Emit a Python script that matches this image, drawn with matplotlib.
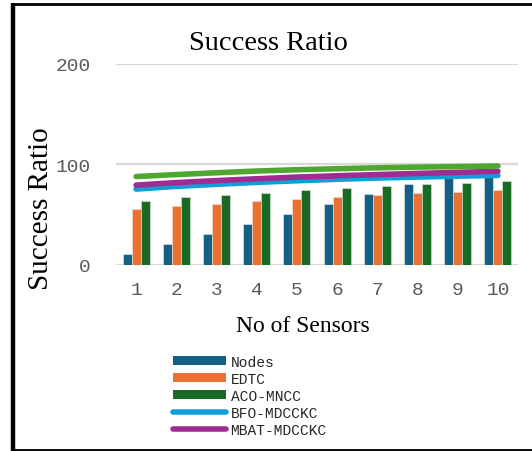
import matplotlib
matplotlib.use("Agg")
import matplotlib.pyplot as plt
import numpy as np
from matplotlib.lines import Line2D
from matplotlib.patches import Patch

# Data
sensors = [1, 2, 3, 4, 5, 6, 7, 8, 9, 10]
nodes = [10, 20, 30, 40, 50, 60, 70, 80, 88, 90]
edtc = [55, 58, 60, 63, 65, 67, 69, 71, 72, 74]
aco_mncc = [63, 67, 69, 71, 74, 76, 78, 80, 81, 83]
bfo_mdcckc = [75, 77.7, 79.8, 81.7, 83.3, 84.8, 86, 87, 87.9, 88.6]
mbat_mdcckc = [79, 81.5, 83.5, 85.3, 87, 88.3, 89.5, 90.6, 91.7, 92.7]
proposed = [87.5, 89.5, 91.3, 93, 94.3, 95.3, 96.2, 96.9, 97.4, 98]
yticks = [0, 100, 200]

c_nodes = "#156082"
c_edtc = "#E97132"
c_aco = "#196B24"
c_bfo = "#0F9ED5"
c_mbat = "#A02B93"
c_prop = "#4EA72E"

W, H = 532, 452
fig = plt.figure(figsize=(W / 100, H / 100), dpi=100)
fig.patch.set_facecolor("white")

ax = fig.add_axes([116 / W, 1 - 265.5 / H, 402 / W, 201 / H])
ax.set_xlim(0.5, 10.5)
ax.set_ylim(0, 200)

x = np.array(sensors, dtype=float)
bw = 0.224
ax.bar(x - bw, nodes, bw, color=c_nodes, edgecolor="#e8eef2", linewidth=0.4, zorder=2)
ax.bar(x, edtc, bw, color=c_edtc, edgecolor="#f6e3d8", linewidth=0.4, zorder=2)
ax.bar(x + bw, aco_mncc, bw, color=c_aco, edgecolor="#dfe9df", linewidth=0.4, zorder=2)

lw = 4.0
ax.plot(x, bfo_mdcckc, color=c_bfo, lw=lw, solid_capstyle="round", zorder=3)
ax.plot(x, mbat_mdcckc, color=c_mbat, lw=lw, solid_capstyle="round", zorder=4)
ax.plot(x, proposed, color=c_prop, lw=lw, solid_capstyle="round", zorder=5)

for s in ax.spines.values():
    s.set_visible(False)
ax.set_yticks(yticks)
ax.set_xticks(sensors)
ax.set_xticklabels([str(v) for v in sensors])
ax.yaxis.grid(True, color="#d9d9d9", linewidth=1.6, zorder=0)
ax.set_axisbelow(True)
ax.tick_params(axis="both", length=0, labelsize=14, labelcolor="#595959")
ax.tick_params(axis="y", pad=18)
ax.tick_params(axis="x", pad=12)
for lab in ax.get_xticklabels() + ax.get_yticklabels():
    lab.set_fontfamily("Liberation Mono")

serif = "Liberation Serif"
fig.text(268.5 / W, 1 - 43 / H, "Success Ratio", ha="center", va="center",
         fontsize=20.5, family=serif, color="black")
fig.text(41 / W, 1 - 209 / H, "Success Ratio", ha="center", va="center",
         rotation=90, fontsize=21, family=serif, color="black")
fig.text(302.5 / W, 1 - 327 / H, "No of Sensors", ha="center", va="center",
         fontsize=17, family=serif, color="black")

handles = [
    Patch(facecolor=c_nodes, edgecolor="none"),
    Patch(facecolor=c_edtc, edgecolor="none"),
    Patch(facecolor=c_aco, edgecolor="none"),
    Line2D([0], [0], color=c_bfo, lw=lw, solid_capstyle="round"),
    Line2D([0], [0], color=c_mbat, lw=lw, solid_capstyle="round"),
]
labels = ["Nodes", "EDTC", "ACO-MNCC", "BFO-MDCCKC", "MBAT-MDCCKC"]
fig.legend(handles, labels, loc="upper left",
           bbox_to_anchor=(173 / W, 1 - 356 / H),
           frameon=False, borderpad=0, borderaxespad=0,
           prop={"family": "Liberation Mono", "size": 10.5},
           handlelength=3.6, handleheight=0.55, handletextpad=0.35,
           labelspacing=0.2, labelcolor="#262626")

# Outer frame
frame_kw = dict(color="black", transform=fig.transFigure, solid_capstyle="butt")
fig.add_artist(Line2D([13 / W, 13 / W], [1 - 4 / H, 1 - 452 / H], lw=3.2, **frame_kw))
fig.add_artist(Line2D([11 / W, 1.0], [1 - 5 / H, 1 - 5 / H], lw=2.0, **frame_kw))
fig.add_artist(Line2D([11 / W, 1.0], [1 - 450.5 / H, 1 - 450.5 / H], lw=2.0, **frame_kw))

fig.savefig("out.png", dpi=100, facecolor="white")
